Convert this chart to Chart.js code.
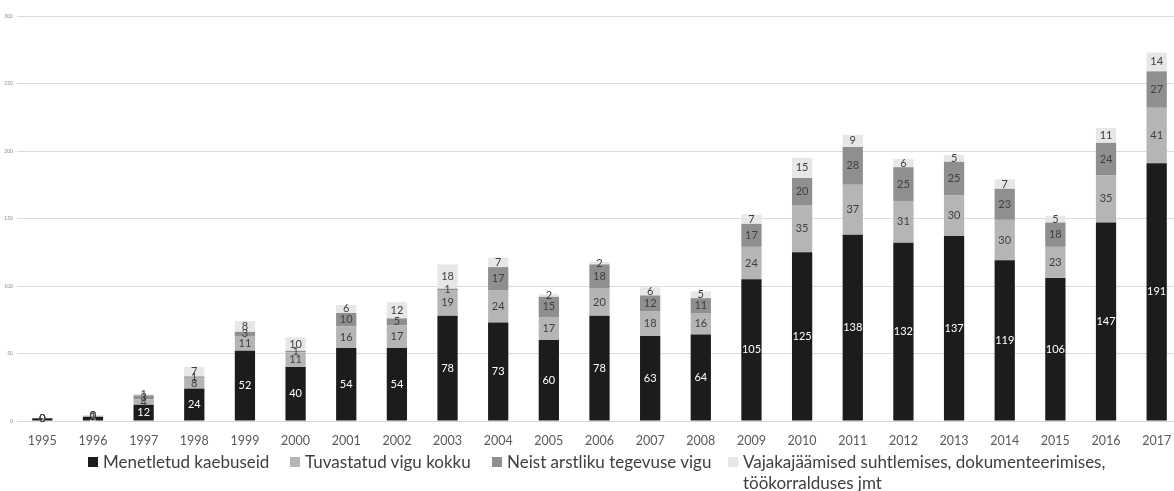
<!DOCTYPE html>
<html>
<head>
<meta charset="utf-8">
<script src="https://cdn.jsdelivr.net/npm/chart.js@4/dist/chart.umd.min.js"></script>
<style>
  html, body { margin: 0; padding: 0; background: #fff; }
  #wrap { position: relative; width: 1174px; height: 491px; overflow: hidden; }
  #box { position: absolute; left: 0; top: 0; width: 1182px; height: 491px; }
  .leg { position: absolute; font-family: Lato, "Open Sans", sans-serif; font-size: 17px; color: #404040; line-height: 21px; white-space: nowrap; }
  .leg i { position: absolute; left: 0; top: 6px; width: 10px; height: 10px; }
  .leg span { display: block; padding-left: 15px; }
</style>
</head>
<body>
<div id="wrap">
  <div id="box"><canvas id="chart"></canvas></div>
  <div id="legend"></div>
</div>
<script>
const years = ['1995','1996','1997','1998','1999','2000','2001','2002','2003','2004','2005','2006',
  '2007','2008','2009','2010','2011','2012','2013','2014','2015','2016','2017']

const menetletud = [2, 3, 12, 24, 52, 40, 54, 54, 78, 73, 60, 78, 63, 64, 105, 125, 138, 132, 137, 119, 106, 147, 191]
const tuvastatud = [0, 1, 4, 8, 11, 11, 16, 17, 19, 24, 17, 20, 18, 16, 24, 35, 37, 31, 30, 30, 23, 35, 41]
const arstliku = [0, 0, 3, 1, 3, 1, 10, 5, 1, 17, 15, 18, 12, 11, 17, 20, 28, 25, 25, 23, 18, 24, 27]
const vajakajaamised = [0, 0, 1, 7, 8, 10, 6, 12, 18, 7, 2, 2, 6, 5, 7, 15, 9, 6, 5, 7, 5, 11, 14]

const yTicks = [0, 50, 100, 150, 200, 250, 300]

const seriesNames = [
  'Menetletud kaebuseid',
  'Tuvastatud vigu kokku',
  'Neist arstliku tegevuse vigu',
  ['Vajakajäämised suhtlemises, dokumenteerimises,', 'töökorralduses jmt']
]
const colors = ['#1c1c1c', '#b5b5b5', '#8f8f8f', '#e7e7e7']
const labelColors = ['#ffffff', '#404040', '#404040', '#404040']
const legendX = [88, 290, 492, 728]

const valueLabels = {
  id: 'valueLabels',
  afterDatasetsDraw(chart) {
    const ctx = chart.ctx
    ctx.save()
    ctx.font = '11px Lato, "Open Sans", sans-serif'
    ctx.textAlign = 'center'
    ctx.textBaseline = 'middle'
    chart.data.datasets.forEach((ds, i) => {
      const meta = chart.getDatasetMeta(i)
      meta.data.forEach((bar, j) => {
        ctx.fillStyle = labelColors[i]
        ctx.fillText(String(ds.data[j]), bar.x, (bar.y + bar.base) / 2)
      })
    })
    ctx.restore()
  }
}

const datasets = [menetletud, tuvastatud, arstliku, vajakajaamised].map((d, i) => ({
  label: Array.isArray(seriesNames[i]) ? seriesNames[i].join(' ') : seriesNames[i],
  data: d,
  backgroundColor: colors[i],
  borderWidth: 0,
  barPercentage: 0.4,
  categoryPercentage: 1
}))

new Chart(document.getElementById('chart'), {
  type: 'bar',
  data: { labels: years, datasets: datasets },
  options: {
    responsive: true,
    maintainAspectRatio: false,
    animation: false,
    layout: { padding: { top: 16, right: 0, left: 0, bottom: 0 } },
    plugins: {
      legend: { display: false },
      tooltip: { enabled: false }
    },
    scales: {
      x: {
        stacked: true,
        grid: { display: false },
        border: { color: '#d9d9d9' },
        ticks: {
          color: '#595959',
          font: { family: 'Lato', size: 12.5 },
          padding: 4,
          maxRotation: 0,
          autoSkip: false
        },
        afterFit(scale) { scale.height = 70 }
      },
      y: {
        stacked: true,
        min: 0,
        max: 300,
        afterBuildTicks(scale) { scale.ticks = yTicks.map(v => ({ value: v })) },
        grid: { color: '#dcdcdc', drawTicks: false },
        border: { display: false },
        ticks: {
          color: '#8c8c8c',
          font: { family: 'Lato', size: 5 },
          padding: 4
        },
        afterFit(scale) { scale.width = 17 }
      }
    }
  },
  plugins: [valueLabels]
})

// legend (last entry wraps to two lines as in the original)
const legendEl = document.getElementById('legend')
seriesNames.forEach((name, i) => {
  const item = document.createElement('div')
  item.className = 'leg'
  item.style.left = legendX[i] + 'px'
  item.style.top = '451px'
  const sw = document.createElement('i')
  sw.style.background = colors[i]
  item.appendChild(sw)
  const lines = Array.isArray(name) ? name : [name]
  lines.forEach(t => {
    const s = document.createElement('span')
    s.textContent = t
    item.appendChild(s)
  })
  legendEl.appendChild(item)
})
</script>
</body>
</html>
